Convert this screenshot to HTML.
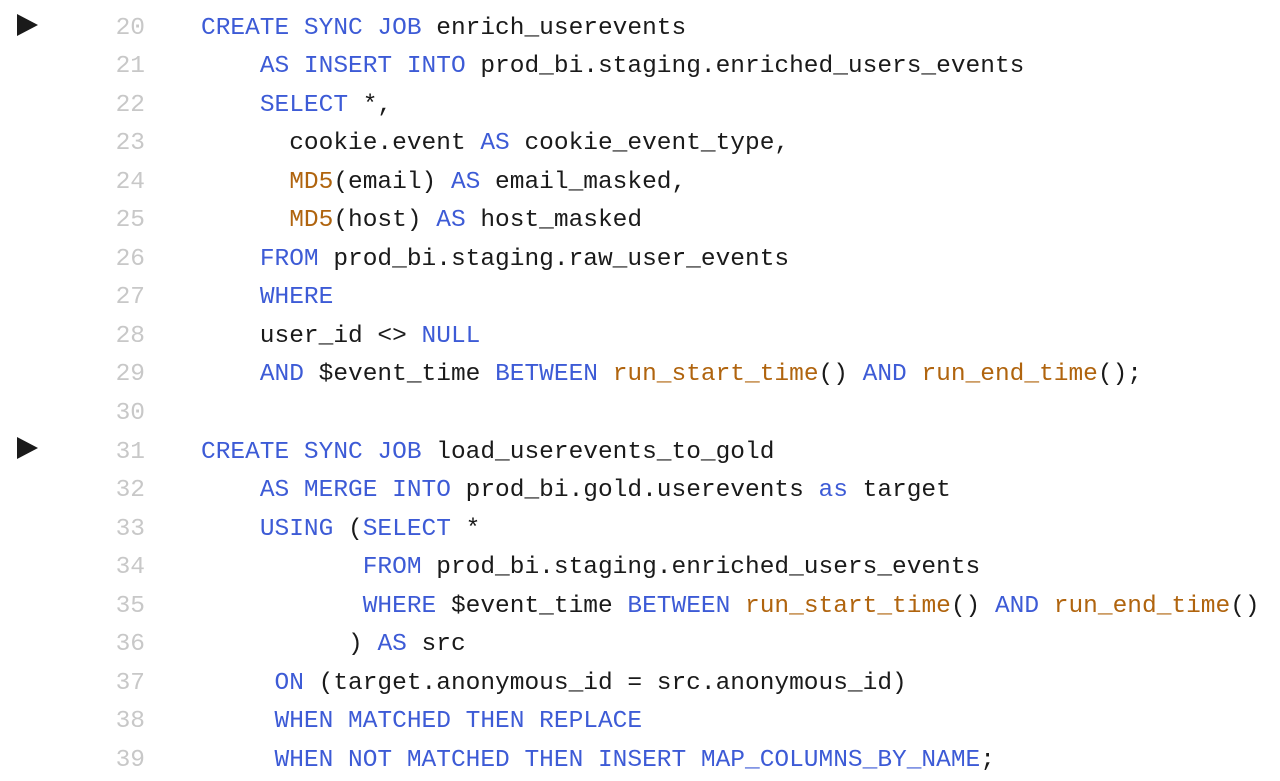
<!DOCTYPE html>
<html><head><meta charset="utf-8">
<style>
html,body{margin:0;padding:0;background:#fff;}
body{width:1280px;height:781px;position:relative;overflow:hidden;font-family:"Liberation Mono",monospace;font-size:24.5px;}
.nums{position:absolute;left:60px;width:85px;top:9.7px;text-align:right;color:#c8c8c8;line-height:38.53px;white-space:pre;}
.code{position:absolute;left:201px;top:9.7px;color:#1a1a1a;line-height:38.53px;white-space:pre;}
.k{color:#3d5bd6;}
.f{color:#b0640e;}
.tri{position:absolute;left:17px;width:0;height:0;border-top:11px solid transparent;border-bottom:11px solid transparent;border-left:21px solid #1a1a1a;}
</style></head><body>
<div class="tri" style="top:14px"></div>
<div class="tri" style="top:437px"></div>
<div class="nums">20
21
22
23
24
25
26
27
28
29
30
31
32
33
34
35
36
37
38
39</div>
<div class="code"><span class="k">CREATE SYNC JOB</span> enrich_userevents
    <span class="k">AS INSERT INTO</span> prod_bi.staging.enriched_users_events
    <span class="k">SELECT</span> *,
      cookie.event <span class="k">AS</span> cookie_event_type,
      <span class="f">MD5</span>(email) <span class="k">AS</span> email_masked,
      <span class="f">MD5</span>(host) <span class="k">AS</span> host_masked
    <span class="k">FROM</span> prod_bi.staging.raw_user_events
    <span class="k">WHERE</span>
    user_id &lt;&gt; <span class="k">NULL</span>
    <span class="k">AND</span> $event_time <span class="k">BETWEEN</span> <span class="f">run_start_time</span>() <span class="k">AND</span> <span class="f">run_end_time</span>();

<span class="k">CREATE SYNC JOB</span> load_userevents_to_gold
    <span class="k">AS MERGE INTO</span> prod_bi.gold.userevents <span class="k">as</span> target
    <span class="k">USING</span> (<span class="k">SELECT</span> *
           <span class="k">FROM</span> prod_bi.staging.enriched_users_events
           <span class="k">WHERE</span> $event_time <span class="k">BETWEEN</span> <span class="f">run_start_time</span>() <span class="k">AND</span> <span class="f">run_end_time</span>()
          ) <span class="k">AS</span> src
     <span class="k">ON</span> (target.anonymous_id = src.anonymous_id)
     <span class="k">WHEN MATCHED THEN REPLACE</span>
     <span class="k">WHEN NOT MATCHED THEN INSERT MAP_COLUMNS_BY_NAME</span>;</div>
</body></html>
